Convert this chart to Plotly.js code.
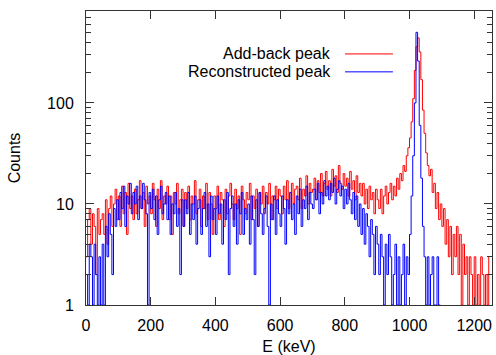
<!DOCTYPE html>
<html>
<head>
<meta charset="utf-8">
<script src="https://cdn.plot.ly/plotly-3.0.1.min.js"></script>
<style>html,body{margin:0;padding:0;background:#fff;}#chart{width:496px;height:355px;}</style>
</head>
<body>
<div id="chart"></div>
<script>
// Histogram bins: lower edge of each bin in keV (5 keV wide bins)
const binWidth = 5;

// Add-back peak counts per 5 keV bin, starting at 0 keV
const addBackCounts = [
  3, 7, 9, 4, 8, 6, 2, 9, 5, 7,
  8, 5, 11, 4, 9, 12, 6, 10, 14, 7,
  12, 6, 15, 8, 13, 5, 16, 9, 12, 7,
  14, 8, 11, 17, 9, 13, 6, 15, 10, 12,
  8, 16, 11, 6, 14, 9, 17, 7, 12, 10,
  15, 7, 12, 5, 13, 10, 16, 8, 11, 14,
  6, 13, 9, 15, 7, 12, 10, 17, 8, 11,
  14, 6, 12, 9, 16, 7, 13, 10, 5, 12,
  9, 15, 7, 13, 11, 6, 14, 8, 12, 16,
  10, 7, 14, 9, 12, 5, 15, 11, 8, 13,
  11, 16, 7, 12, 9, 14, 6, 13, 10, 15,
  8, 13, 10, 16, 7, 12, 11, 15, 9, 14,
  12, 8, 15, 11, 17, 9, 13, 16, 10, 14,
  15, 11, 18, 9, 14, 12, 19, 10, 16, 13,
  14, 18, 11, 17, 13, 20, 12, 16, 21, 14,
  17, 12, 22, 15, 19, 13, 24, 16, 14, 20,
  15, 18, 12, 21, 14, 17, 11, 19, 13, 16,
  12, 16, 10, 14, 9, 15, 11, 13, 8, 14,
  11, 9, 14, 8, 12, 15, 10, 13, 16, 11,
  15, 12, 18, 14, 20, 17, 24, 21, 30, 36,
  45, 65, 110, 210, 360, 440, 320, 170, 85, 50,
  32, 24, 19, 22, 13, 16, 9, 13, 7, 10,
  6, 9, 4, 7, 3, 6, 2, 5, 3, 6,
  2, 5, 1, 4, 2, 3, 1, 3, 2, 1,
  3, 1, 2, 1, 3, 2, 1, 2, 1, 3
];

// Reconstructed peak counts per 5 keV bin, starting at 0 keV
const reconstructedCounts = [
  2, 1, 4, 3, 1, 4, 2, 1, 3, 1,
  4, 1, 6, 3, 8, 5, 2, 9, 6, 11,
  7, 13, 9, 15, 6, 12, 10, 16, 8, 13,
  10, 15, 7, 12, 9, 16, 11, 8, 1, 13,
  9, 14, 7, 12, 5, 11, 15, 8, 10, 13,
  7, 12, 5, 10, 8, 13, 6, 9, 2, 11,
  6, 11, 8, 13, 5, 10, 7, 12, 4, 9,
  11, 5, 9, 13, 6, 10, 3, 12, 7, 9,
  5, 12, 8, 10, 4, 11, 7, 13, 2, 9,
  12, 6, 10, 4, 11, 8, 13, 5, 9, 7,
  10, 4, 12, 7, 2, 11, 6, 13, 8, 5,
  9, 12, 6, 1, 10, 7, 12, 5, 11, 8,
  6, 12, 9, 4, 11, 8, 13, 7, 10, 5,
  12, 8, 14, 6, 11, 9, 15, 7, 13, 10,
  9, 14, 11, 16, 8, 13, 10, 17, 12, 15,
  11, 16, 13, 18, 10, 14, 17, 12, 15, 9,
  14, 10, 16, 11, 8, 13, 7, 12, 6, 10,
  5, 9, 4, 8, 6, 3, 7, 5, 2, 6,
  4, 2, 5, 3, 1, 4, 2, 5, 3, 1,
  2, 4, 1, 3, 1, 2, 4, 1, 3, 2,
  5, 12, 30, 100, 500, 260, 60, 18, 6, 3,
  1, 3, 1, 2, 3, 1, 1, 3, 1, 1
];

const seriesNames = ["Add-back peak", "Reconstructed peak"];
const seriesColors = ["#ff0000", "#0000ff"];
const xTickVals = [0, 200, 400, 600, 800, 1000, 1200];

function binEdges(counts) { return counts.map((_, i) => i * binWidth); }

const traces = [addBackCounts, reconstructedCounts].map((c, k) => ({
  x: binEdges(c), y: c, type: "scatter", mode: "lines",
  line: {shape: "hv", width: 1, color: seriesColors[k]},
  name: seriesNames[k], showlegend: false, hoverinfo: "skip"
}));

const font = {family: "Liberation Sans, Arial, sans-serif", size: 16, color: "#000"};
const axisCommon = {
  showline: true, linecolor: "#333", linewidth: 1, mirror: "allticks",
  ticks: "inside", tickcolor: "#333", ticklen: 8, tickwidth: 1,
  showgrid: false, zeroline: false, tickfont: font, automargin: false
};

const legendY = [0.854, 0.793];
const layout = {
  width: 496, height: 355,
  margin: {l: 86, r: 4, t: 11, b: 50},
  paper_bgcolor: "#fff", plot_bgcolor: "#fff",
  font: font, showlegend: false,
  xaxis: Object.assign({}, axisCommon, {
    range: [0, 1255], tickvals: xTickVals, ticklabelstandoff: 6,
    title: {text: "E (keV)", font: font, standoff: 10}
  }),
  yaxis: Object.assign({}, axisCommon, {
    type: "log", range: [0, 2.91], dtick: 1, ticklabelstandoff: 8,
    minor: {ticks: "inside", ticklen: 5, tickcolor: "#333", showgrid: false},
    title: {text: "Counts", font: font, standoff: 22}
  }),
  annotations: seriesNames.map((n, k) => ({
    xref: "paper", yref: "paper", x: 0.608, y: legendY[k],
    xanchor: "right", yanchor: "middle", text: n, showarrow: false, font: font
  })),
  shapes: seriesNames.map((n, k) => ({
    type: "line", xref: "paper", yref: "paper",
    x0: 0.638, x1: 0.756, y0: legendY[k], y1: legendY[k],
    line: {color: seriesColors[k], width: 1}
  }))
};

Plotly.newPlot("chart", traces, layout, {staticPlot: true, displayModeBar: false});
</script>
</body>
</html>
